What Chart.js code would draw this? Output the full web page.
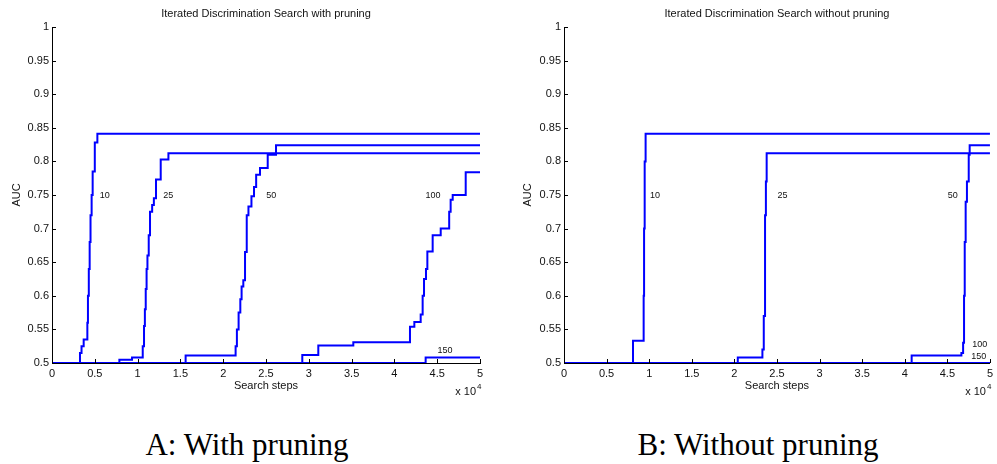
<!DOCTYPE html>
<html>
<head>
<meta charset="utf-8">
<title>Iterated Discrimination Search</title>
<script src="https://cdn.jsdelivr.net/npm/chart.js@4.4.1/dist/chart.umd.min.js"></script>
<style>
  body { margin: 0; background: #fff; width: 997px; height: 464px; position: relative; overflow: hidden; }
  .panel { position: absolute; top: 0; height: 400px; }
  .caption { position: absolute; top: 429px; line-height: 31px; font-family: "Liberation Serif", "Times New Roman", serif; font-size: 31px; color: #000; white-space: nowrap; transform: translateX(-50%); }
</style>
</head>
<body>
<div class="panel" style="left:0;width:500px"><canvas id="pruned" width="500" height="400"></canvas></div>
<div class="panel" style="left:500px;width:497px"><canvas id="plain" width="497" height="400"></canvas></div>
<div class="caption" style="left:247px">A: With pruning</div>
<div class="caption" style="left:758px">B: Without pruning</div>
<script>
// axis ticks (search steps in units of 10^4)
const stepTicks = [0, 0.5, 1, 1.5, 2, 2.5, 3, 3.5, 4, 4.5, 5];
const aucTicks = [0.5, 0.55, 0.6, 0.65, 0.7, 0.75, 0.8, 0.85, 0.9, 0.95, 1];

// A: with pruning, one curve per population size
const prunedSteps10 = [0, 0.327, 0.345, 0.37, 0.413, 0.42, 0.43, 0.44, 0.45, 0.463, 0.475, 0.5, 0.53, 5];
const prunedAuc10 = [0.5, 0.515, 0.525, 0.535, 0.56, 0.6, 0.64, 0.68, 0.72, 0.75, 0.785, 0.828, 0.841, 0.841];
const prunedSteps25 = [0, 0.787, 0.935, 1.06, 1.075, 1.085, 1.095, 1.105, 1.115, 1.13, 1.145, 1.17, 1.19, 1.215, 1.27, 1.36, 5];
const prunedAuc25 = [0.5, 0.505, 0.508, 0.525, 0.555, 0.58, 0.61, 0.64, 0.66, 0.69, 0.725, 0.735, 0.745, 0.773, 0.803, 0.812, 0.812];
const prunedSteps50 = [0, 1.561, 2.145, 2.16, 2.18, 2.2, 2.215, 2.235, 2.255, 2.275, 2.295, 2.33, 2.36, 2.385, 2.43, 2.52, 2.617, 5];
const prunedAuc50 = [0.5, 0.511, 0.525, 0.55, 0.575, 0.595, 0.614, 0.623, 0.665, 0.72, 0.733, 0.748, 0.762, 0.78, 0.79, 0.81, 0.824, 0.824];
const prunedSteps100 = [0, 2.924, 3.111, 3.52, 4.182, 4.233, 4.307, 4.33, 4.346, 4.369, 4.385, 4.447, 4.541, 4.64, 4.657, 4.681, 4.833, 5];
const prunedAuc100 = [0.5, 0.512, 0.526, 0.531, 0.554, 0.561, 0.572, 0.6, 0.625, 0.64, 0.666, 0.69, 0.7, 0.725, 0.743, 0.75, 0.784, 0.784];
const prunedSteps150 = [0, 4.365, 5];
const prunedAuc150 = [0.5, 0.508, 0.508];

// B: without pruning
const plainSteps10 = [0, 0.81, 0.935, 0.94, 0.947, 0.958, 5];
const plainAuc10 = [0.5, 0.533, 0.6, 0.7, 0.8, 0.841, 0.841];
const plainSteps25 = [0, 2.04, 2.329, 2.345, 2.36, 2.37, 2.379, 5];
const plainAuc25 = [0.5, 0.508, 0.52, 0.57, 0.72, 0.77, 0.812, 0.812];
const plainSteps50 = [0, 4.081, 4.665, 4.685, 4.696, 4.704, 4.715, 4.73, 4.751, 4.762, 5];
const plainAuc50 = [0.5, 0.511, 0.515, 0.53, 0.6, 0.68, 0.74, 0.77, 0.81, 0.824, 0.824];
const plainSteps100 = [0, 5];
const plainAuc100 = [0.5, 0.5];
const plainSteps150 = [0, 5];
const plainAuc150 = [0.5, 0.5];

// curve labels (population size), placed in data units
const curveNames = ['10', '25', '50', '100', '150'];
const prunedLabelX = [0.615, 1.359, 2.561, 4.451, 4.59];
const prunedLabelY = [0.749, 0.749, 0.749, 0.749, 0.518];
const plainLabelX = [1.067, 2.564, 4.564, 4.88, 4.87];
const plainLabelY = [0.749, 0.749, 0.749, 0.528, 0.51];

const sans = '"Liberation Sans", Arial, Helvetica, sans-serif';
Chart.defaults.font.family = sans;
Chart.defaults.color = '#111';

function series(steps, auc) {
    return steps.map((x, i) => ({ x: x, y: auc[i] }));
}

// inward ticks, curve labels and the x10^4 multiplier
const extras = {
    id: 'extras',
    afterDraw(chart, args, opts) {
        const { ctx, chartArea, scales } = chart;
        ctx.save();
        ctx.strokeStyle = '#000';
        ctx.lineWidth = 1;
        ctx.beginPath();
        stepTicks.forEach(v => {
            const px = Math.round(scales.x.getPixelForValue(v)) + 0.5;
            ctx.moveTo(px, chartArea.bottom);
            ctx.lineTo(px, chartArea.bottom - 4);
        });
        aucTicks.forEach(v => {
            const py = Math.round(scales.y.getPixelForValue(v)) + 0.5;
            ctx.moveTo(chartArea.left, py);
            ctx.lineTo(chartArea.left + 4, py);
        });
        ctx.stroke();

        ctx.fillStyle = '#111';
        ctx.font = '9px ' + sans;
        ctx.textAlign = 'center';
        ctx.textBaseline = 'middle';
        curveNames.forEach((t, i) => {
            ctx.fillText(t, scales.x.getPixelForValue(opts.x[i]), scales.y.getPixelForValue(opts.y[i]));
        });

        ctx.font = '11px ' + sans;
        ctx.textAlign = 'right';
        ctx.fillText('x 10', chartArea.right - 4, chartArea.bottom + 29);
        ctx.font = '8px ' + sans;
        ctx.textAlign = 'left';
        ctx.fillText('4', chartArea.right - 3, chartArea.bottom + 24);
        ctx.restore();
    }
};

function makeChart(id, title, curves, labelX, labelY, axisWidth, rightPad, aucPad) {
    return new Chart(document.getElementById(id), {
        type: 'line',
        data: {
            datasets: curves.map(c => ({
                data: series(c[0], c[1]),
                borderColor: '#0000ff',
                borderWidth: 2,
                pointRadius: 0,
                stepped: 'before',
                fill: false
            }))
        },
        options: {
            responsive: false,
            animation: false,
            layout: { padding: { left: 0, right: rightPad, top: 0, bottom: 0 } },
            plugins: {
                legend: { display: false },
                tooltip: { enabled: false },
                title: {
                    display: true,
                    text: title,
                    fullSize: false,
                    color: '#111',
                    font: { size: 11, weight: 'normal' },
                    padding: { top: 7, bottom: 6.8 }
                },
                extras: { x: labelX, y: labelY }
            },
            scales: {
                x: {
                    type: 'linear',
                    min: 0,
                    max: 5,
                    afterBuildTicks: s => { s.ticks = stepTicks.map(v => ({ value: v })); },
                    afterFit: s => { s.height = 37; },
                    ticks: { font: { size: 11 }, color: '#111', padding: 4, maxRotation: 0, autoSkip: false, callback: v => String(v) },
                    grid: { display: false, drawTicks: false },
                    border: { display: true, color: '#000', width: 1 },
                    title: { display: true, text: 'Search steps', color: '#111', font: { size: 11 }, padding: { top: 0, bottom: 7.4 } }
                },
                y: {
                    type: 'linear',
                    min: 0.5,
                    max: 1,
                    afterBuildTicks: s => { s.ticks = aucTicks.map(v => ({ value: v })); },
                    afterFit: s => { s.width = axisWidth; },
                    ticks: { font: { size: 11 }, color: '#111', padding: 3, autoSkip: false, callback: v => String(v) },
                    grid: { display: false, drawTicks: false },
                    border: { display: true, color: '#000', width: 1 },
                    title: { display: true, text: 'AUC', color: '#111', font: { size: 11 }, padding: { top: aucPad, bottom: 0 } }
                }
            }
        },
        plugins: [extras]
    });
}

makeChart('pruned', 'Iterated Discrimination Search with pruning', [
    [prunedSteps10, prunedAuc10],
    [prunedSteps25, prunedAuc25],
    [prunedSteps50, prunedAuc50],
    [prunedSteps100, prunedAuc100],
    [prunedSteps150, prunedAuc150]
], prunedLabelX, prunedLabelY, 52, 20, 10.4);

makeChart('plain', 'Iterated Discrimination Search without pruning', [
    [plainSteps10, plainAuc10],
    [plainSteps25, plainAuc25],
    [plainSteps50, plainAuc50],
    [plainSteps100, plainAuc100],
    [plainSteps150, plainAuc150]
], plainLabelX, plainLabelY, 64, 5, 21.7);
</script>
</body>
</html>
